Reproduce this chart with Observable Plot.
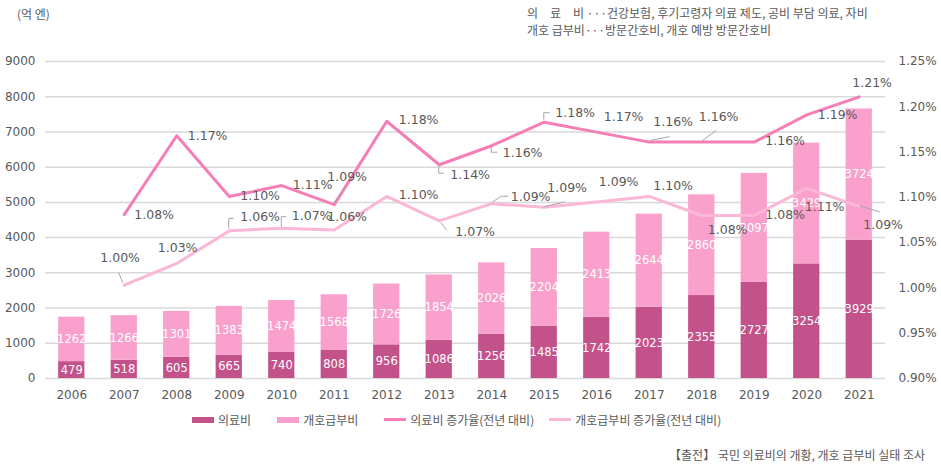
<!DOCTYPE html>
<html>
<head>
<meta charset="utf-8">
<script src="https://cdn.jsdelivr.net/npm/d3@7"></script>
<script src="https://cdn.jsdelivr.net/npm/@observablehq/plot@0.6"></script>
<style>
  body { margin: 0; background: #fff; }
  #wrap { position: relative; width: 941px; height: 473px; overflow: hidden; font-family: "Noto Sans CJK KR", "DejaVu Sans", sans-serif; color: #595959; }
  #wrap svg { position: absolute; left: 0; top: 0; }
  .abs { position: absolute; font-size: 12px; line-height: 17px; white-space: nowrap; }
  .leg { display: flex; align-items: center; }
  .sw { display: inline-block; width: 22px; margin-right: 4px; }
</style>
</head>
<body>
<div id="wrap">
  <div class="abs" style="left:17px; top:5px;">(억 엔)</div>
  <div class="abs" style="left:527px; top:4px;">의　료　비 ···건강보험, 후기고령자 의료 제도, 공비 부담 의료, 자비<br>개호 급부비···방문간호비, 개호 예방 방문간호비</div>
  <div class="abs" id="legend" style="left:192px; top:411px; display:flex;"></div>
  <div class="abs" style="right:16px; top:446px;">【출전】 국민 의료비의 개황, 개호 급부비 실태 조사</div>
</div>
<script>
const years = ["2006","2007","2008","2009","2010","2011","2012","2013","2014","2015","2016","2017","2018","2019","2020","2021"];
const medical = [479,518,605,665,740,808,956,1086,1256,1485,1742,2023,2355,2727,3254,3929];
const care = [1262,1266,1301,1383,1474,1568,1726,1854,2026,2204,2413,2644,2860,3097,3429,3724];
const lineYears = years.slice(1);
const medicalRate = [1.081,1.168,1.101,1.113,1.092,1.184,1.136,1.157,1.183,1.172,1.161,1.161,1.161,1.191,1.211];
const careRate = [1.003,1.027,1.063,1.066,1.064,1.101,1.074,1.093,1.089,1.095,1.101,1.080,1.080,1.110,1.090];
const leftTicks = [0,1000,2000,3000,4000,5000,6000,7000,8000,9000];
const rightTicks = [0.90,0.95,1.00,1.05,1.10,1.15,1.20,1.25];
const seriesNames = ["의료비","개호급부비","의료비 증가율(전년 대비)","개호급부비 증가율(전년 대비)"];

// styling / layout (pixel offsets of labels and leader lines relative to their points)
const colors = {"의료비":"#c3528a","개호급부비":"#f9a0cc","의료비 증가율(전년 대비)":"#f57eb6","개호급부비 증가율(전년 대비)":"#fbb7d6"};
const medLabelOffsets = [[10,0],[11,0],[11,0],[11,-1],[-7,-28],[12,-1],[11,10],[11,7],[11,-9],[7,-15],[4,-20],[-3,-25],[11,-1],[11,0],[-7,-14]];
const careLabelOffsets = [[-24,-27],[-19,-15],[11,-14],[10,-12],[-7,-13],[12,-1],[16,11],[19,-7],[3,-19],[2,-20],[4,-10],[6,15],[11,0],[-2,19],[4,19]];
const leaders = [
  {s: "care", yr: "2007", pts: [[-1,-2],[-5,-12]]},
  {s: "care", yr: "2009", pts: [[0,-2],[0,-12],[5,-12]]},
  {s: "care", yr: "2010", pts: [[0,-1],[0,-11],[5,-11]]},
  {s: "med",  yr: "2011", pts: [[0,-1],[11,-16]]},
  {s: "med",  yr: "2013", pts: [[0,2],[0,9],[5,9]]},
  {s: "care", yr: "2013", pts: [[2,2],[8,10]]},
  {s: "med",  yr: "2014", pts: [[0,2],[0,7],[6,7]]},
  {s: "care", yr: "2014", pts: [[1,-1],[10,-7],[17,-7]]},
  {s: "med",  yr: "2015", pts: [[0,-2],[0,-9],[6,-9]]},
  {s: "care", yr: "2015", pts: [[0,0],[21,-5]]},
  {s: "med",  yr: "2017", pts: [[1,-1],[21,-5]]},
  {s: "med",  yr: "2018", pts: [[1,-1],[15,-11]]},
  {s: "care", yr: "2021", pts: [[1,0],[21,6]]}
];

const rMin = 0.90, rMax = 1.25, yMax = 9000;
const toY = p => (p - rMin) / (rMax - rMin) * yMax;

const barRows = [];
years.forEach((yr, i) => {
  barRows.push({year: yr, series: "의료비", value: medical[i], mid: medical[i] / 2});
  barRows.push({year: yr, series: "개호급부비", value: care[i], mid: medical[i] + care[i] / 2});
});
const medRows = lineYears.map((yr, i) => ({year: yr, v: medicalRate[i]}));
const careRows = lineYears.map((yr, i) => ({year: yr, v: careRate[i]}));

const font = "DejaVu Sans, sans-serif";
const labelMarks = [];
medRows.forEach((d, i) => labelMarks.push(Plot.text([d], {x: "year", y: r => toY(r.v), text: r => r.v.toFixed(2) + "%", textAnchor: "start", dx: medLabelOffsets[i][0], dy: medLabelOffsets[i][1], fill: "#595959", fontSize: 12.5, fontFamily: font})));
careRows.forEach((d, i) => labelMarks.push(Plot.text([d], {x: "year", y: r => toY(r.v), text: r => r.v.toFixed(2) + "%", textAnchor: "start", dx: careLabelOffsets[i][0], dy: careLabelOffsets[i][1], fill: "#595959", fontSize: 12.5, fontFamily: font})));

const chart = Plot.plot({
  width: 941,
  height: 473,
  marginTop: 61,
  marginBottom: 95,
  marginLeft: 45,
  marginRight: 56,
  style: {fontFamily: font, fontSize: "12px", color: "#595959", background: "transparent"},
  x: {type: "band", domain: years, paddingInner: 0.5, paddingOuter: 0.25, round: false, label: null},
  y: {domain: [0, yMax], label: null},
  marks: [
    Plot.gridY(leftTicks, {stroke: "#d9d9d9", strokeOpacity: 1, strokeWidth: 1.5}),
    Plot.barY(barRows, {x: "year", y: "value", fill: d => colors[d.series], order: null}),
    Plot.text(barRows, {x: "year", y: "mid", text: d => String(d.value), fill: "white", fontSize: 11.5, fontFamily: font}),
    Plot.line(careRows, {x: "year", y: d => toY(d.v), stroke: colors["개호급부비 증가율(전년 대비)"], strokeWidth: 3}),
    Plot.line(medRows, {x: "year", y: d => toY(d.v), stroke: colors["의료비 증가율(전년 대비)"], strokeWidth: 3}),
    ...labelMarks,
    Plot.axisY(leftTicks, {anchor: "left", tickSize: 0, tickPadding: 10, tickFormat: d => String(d), fill: "#595959", fontSize: 12, label: null}),
    Plot.axisY(rightTicks.map(toY), {anchor: "right", tickSize: 0, tickPadding: 13, tickFormat: d => (d / yMax * (rMax - rMin) + rMin).toFixed(2) + "%", fill: "#595959", fontSize: 12, label: null}),
    Plot.axisX({tickSize: 0, tickPadding: 12, fill: "#595959", fontSize: 12, label: null})
  ]
});
document.getElementById("wrap").prepend(chart);

// leader lines, positioned through the plot's own scales
const xs = chart.scale("x"), ys = chart.scale("y");
const bw = xs.bandwidth || 0;
const lookup = {med: Object.fromEntries(medRows.map(d => [d.year, d.v])), care: Object.fromEntries(careRows.map(d => [d.year, d.v]))};
const g = d3.select(chart).append("g").attr("fill", "none").attr("stroke", "#a6a6a6").attr("stroke-width", 1);
leaders.forEach(l => {
  const px = xs.apply(l.yr) + bw / 2;
  const py = ys.apply(toY(lookup[l.s][l.yr]));
  g.append("path").attr("d", d3.line()(l.pts.map(([dx, dy]) => [px + dx, py + dy])));
});

// legend
const legend = document.getElementById("legend");
const gaps = [0, 26, 26, 15];
seriesNames.forEach((name, i) => {
  const item = document.createElement("span");
  item.className = "leg";
  item.style.marginLeft = gaps[i] + "px";
  const sw = document.createElement("span");
  sw.className = "sw";
  sw.style.height = i < 2 ? "6px" : "3px";
  sw.style.background = colors[name];
  item.appendChild(sw);
  item.appendChild(document.createTextNode(name));
  legend.appendChild(item);
});
</script>
</body>
</html>
